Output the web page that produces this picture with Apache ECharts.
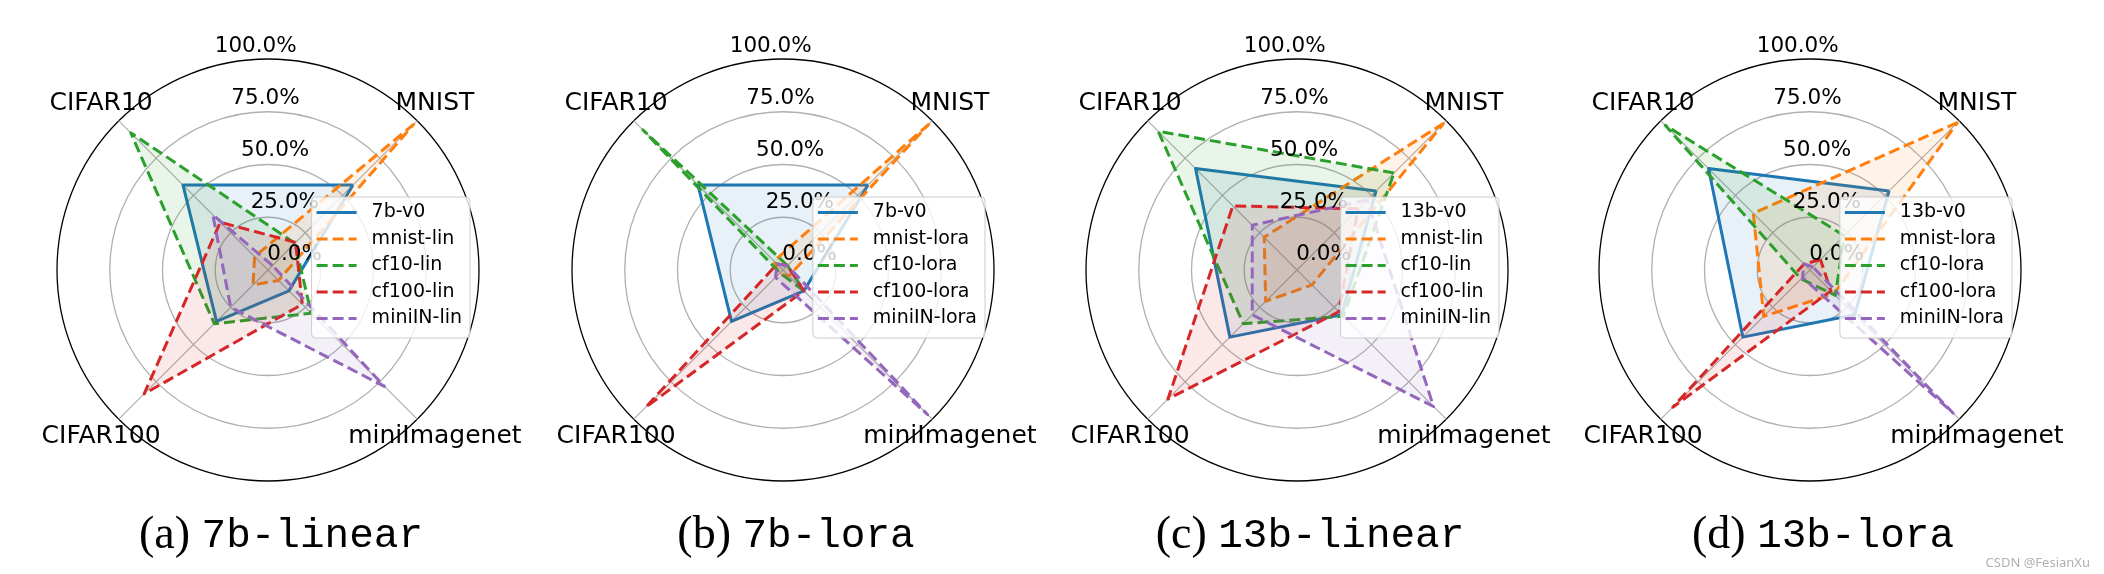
<!DOCTYPE html>
<html><head><meta charset="utf-8">
<script src="https://cdn.jsdelivr.net/npm/echarts@6/dist/echarts.min.js"></script>
<style>html,body{margin:0;padding:0;background:#fff}#c{width:2104px;height:574px}</style>
</head><body><div id="c"></div>
<script>
// ---------- data ----------
const indicators = ['MNIST', 'CIFAR10', 'CIFAR100', 'miniImagenet'];
const tickValues = [0, 0.25, 0.5, 0.75, 1.0];
const panelTags = ['(a)', '(b)', '(c)', '(d)'];
const panelNames = ['7b-linear', '7b-lora', '13b-linear', '13b-lora'];

const namesA = ['7b-v0', 'mnist-lin', 'cf10-lin', 'cf100-lin', 'miniIN-lin'];
const namesB = ['7b-v0', 'mnist-lora', 'cf10-lora', 'cf100-lora', 'miniIN-lora'];
const namesC = ['13b-v0', 'mnist-lin', 'cf10-lin', 'cf100-lin', 'miniIN-lin'];
const namesD = ['13b-v0', 'mnist-lora', 'cf10-lora', 'cf100-lora', 'miniIN-lora'];

// values in order: MNIST, CIFAR10, CIFAR100, miniImagenet
const v7b_v0       = [0.57, 0.57, 0.345, 0.14];
const a_mnist_lin  = [0.98, 0.09, 0.10, 0.07];
const a_cf10_lin   = [0.18, 0.92, 0.36, 0.29];
const a_cf100_lin  = [0.185, 0.32, 0.83, 0.23];
const a_miniIN_lin = [0.03, 0.37, 0.25, 0.78];

const b_mnist_lora  = [0.98, 0.06, 0.03, 0.04];
const b_cf10_lora   = [0.03, 0.94, 0.02, 0.14];
const b_cf100_lora  = [0.03, 0.04, 0.92, 0.14];
const b_miniIN_lora = [0.03, 0.04, 0.05, 0.97];

const v13b_v0      = [0.53, 0.68, 0.45, 0.30];
const c_mnist_lin  = [0.985, 0.22, 0.21, 0.10];
const c_cf10_lin   = [0.65, 0.93, 0.36, 0.31];
const c_cf100_lin  = [0.41, 0.43, 0.865, 0.28];
const c_miniIN_lin = [0.47, 0.30, 0.30, 0.915];

const d_mnist_lora  = [0.99, 0.38, 0.31, 0.16];
const d_cf10_lora   = [0.23, 0.97, 0.06, 0.17];
const d_cf100_lora  = [0.07, 0.04, 0.92, 0.14];
const d_miniIN_lora = [0.02, 0.04, 0.05, 0.96];

const panelSeriesNames = [namesA, namesB, namesC, namesD];
const panelValues = [
  [v7b_v0, a_mnist_lin, a_cf10_lin, a_cf100_lin, a_miniIN_lin],
  [v7b_v0, b_mnist_lora, b_cf10_lora, b_cf100_lora, b_miniIN_lora],
  [v13b_v0, c_mnist_lin, c_cf10_lin, c_cf100_lin, c_miniIN_lin],
  [v13b_v0, d_mnist_lora, d_cf10_lora, d_cf100_lora, d_miniIN_lora]
];

// ---------- layout / style ----------
const W = 2104;
const colors = ['#1f77b4', '#ff7f0e', '#2ca02c', '#d62728', '#9467bd'];
const centersX = [268, 783, 1297, 1810];
const CY = 270, R = 211;
const FONT = 'DejaVu Sans';
const solidIcon = 'path://M0,0h40v3h-40z';
const dashIcon = 'path://M0,0h11v3h-11z M16,0h11v3h-11z M32,0h8v3h-8z';

const radar = [], polar = [], angleAxis = [], radiusAxis = [], legend = [], title = [], series = [];

centersX.forEach((cx, i) => {
  radar.push({
    center: [cx, CY], radius: R, startAngle: 45, shape: 'circle', splitNumber: 4,
    indicator: indicators.map(n => ({ name: n, min: 0, max: 1 })),
    nameGap: 25,
    axisName: { color: '#000', fontSize: 25, fontFamily: FONT, align: 'center', verticalAlign: 'middle' },
    axisLine: { lineStyle: { color: '#b0b0b0', width: 1.2 } },
    splitLine: { lineStyle: { color: ['#b0b0b0', '#b0b0b0', '#b0b0b0', '#b0b0b0', '#000000'], width: 1.3 } },
    splitArea: { show: false },
    axisTick: { show: false },
    axisLabel: { show: false }
  });
  polar.push({ center: [cx, CY], radius: R });
  angleAxis.push({ polarIndex: i, type: 'value', min: 0, max: 360, startAngle: 100.6, show: false });
  radiusAxis.push({
    polarIndex: i, type: 'value', min: tickValues[0], max: tickValues[tickValues.length - 1], interval: 0.25, z: 3,
    axisLine: { show: false }, axisTick: { show: false }, splitLine: { show: false },
    axisLabel: {
      show: true, showMinLabel: true, showMaxLabel: true,
      formatter: v => (v * 100).toFixed(1) + '%',
      color: '#000', fontSize: 21.5, fontFamily: FONT,
      align: 'center', verticalAlign: 'bottom', margin: -27
    }
  });
  const names = panelSeriesNames[i];
  legend.push({
    orient: 'vertical', right: W - (cx + 202), top: 197,
    itemWidth: 40, itemHeight: 20, itemGap: 7.5,
    padding: [6, 8, 10, 5],
    backgroundColor: 'rgba(255,255,255,0.8)', borderColor: '#cccccc', borderWidth: 1, borderRadius: 4,
    textStyle: { fontSize: 19, fontFamily: FONT, color: '#000', padding: [0, 0, 0, 10] },
    selectedMode: false,
    data: names.map((n, k) => ({ name: n, icon: k === 0 ? solidIcon : dashIcon, itemStyle: { color: colors[k], borderWidth: 0 } }))
  });
  title.push({
    text: '{t|' + panelTags[i] + ' }{m|' + panelNames[i] + '}',
    left: cx + 8, top: 508, textAlign: 'center',
    textStyle: { fontWeight: 'normal', rich: {
      t: { fontFamily: 'Liberation Serif', fontSize: 46, fontWeight: 'normal', color: '#000' },
      m: { fontFamily: 'Liberation Mono', fontSize: 41, fontWeight: 'normal', color: '#000' }
    } }
  });
  panelValues[i].forEach((vals, k) => {
    series.push({
      type: 'radar', radarIndex: i, name: names[k], symbol: 'none', z: 2,
      lineStyle: { color: colors[k], width: 3, type: k === 0 ? 'solid' : [11, 5] },
      itemStyle: { color: colors[k] },
      areaStyle: { color: colors[k], opacity: 0.1 },
      data: [{ name: names[k], value: vals }]
    });
  });
});

const chart = echarts.init(document.getElementById('c'), null, { renderer: 'canvas' });
chart.setOption({
  animation: false,
  backgroundColor: '#fff',
  title, legend, radar, polar, angleAxis, radiusAxis, series,
  graphic: [{ type: 'text', right: 14, bottom: 4, style: { text: 'CSDN @FesianXu', fill: '#b0b0b0', font: '13px "Noto Sans"' } }]
});
</script></body></html>
